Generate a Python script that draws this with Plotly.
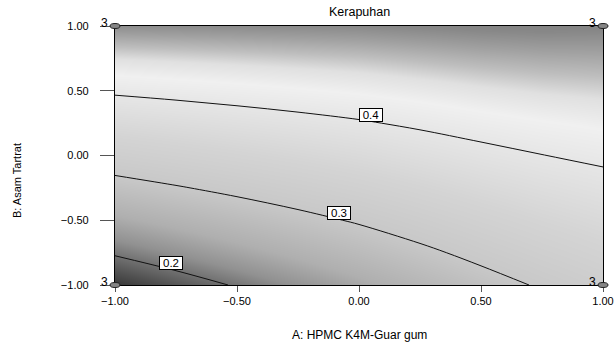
import numpy as np
import plotly.graph_objects as go

# ---------------- data ----------------
A_vals = [-1.0, -0.75, -0.5, -0.25, 0.0, 0.25, 0.5, 0.75, 1.0]   # A: HPMC K4M-Guar gum
B_vals = [-1.0, -0.75, -0.5, -0.25, 0.0, 0.25, 0.5, 0.75, 1.0]   # B: Asam Tartrat

# Kerapuhan response, rows = B (bottom -> top), columns = A (left -> right)
kerapuhan = [
    [0.1636, 0.1832, 0.2029, 0.2225, 0.2422, 0.2634, 0.2845, 0.3042, 0.3219],
    [0.2039, 0.2212, 0.2385, 0.2558, 0.2731, 0.2919, 0.3107, 0.3280, 0.3433],
    [0.2442, 0.2591, 0.2741, 0.2890, 0.3040, 0.3204, 0.3368, 0.3518, 0.3647],
    [0.2845, 0.2971, 0.3097, 0.3223, 0.3348, 0.3489, 0.3630, 0.3756, 0.3861],
    [0.3249, 0.3351, 0.3453, 0.3555, 0.3657, 0.3774, 0.3891, 0.3993, 0.4076],
    [0.3652, 0.3730, 0.3809, 0.3887, 0.3966, 0.4059, 0.4153, 0.4231, 0.4290],
    [0.4055, 0.4110, 0.4165, 0.4220, 0.4275, 0.4344, 0.4414, 0.4469, 0.4504],
    [0.4458, 0.4490, 0.4521, 0.4552, 0.4583, 0.4630, 0.4676, 0.4707, 0.4718],
    [0.4862, 0.4869, 0.4877, 0.4884, 0.4892, 0.4915, 0.4937, 0.4945, 0.4933],
]

contour_levels = [0.2, 0.3, 0.4]
label_A = [-0.77, -0.08, 0.05]          # where each contour label sits along A

design_A = [-1, -1, 1, 1]
design_B = [-1, 1, -1, 1]
design_n = [3, 3, 3, 3]

tick_vals = [-1.0, -0.5, 0.0, 0.5, 1.0]

# ---------------- style ----------------
FONT = "Liberation Sans, Arial, sans-serif"
ZMIN, ZMAX = 0.16, 0.50
gray_stops = [(0.16, 50), (0.18, 80), (0.20, 112), (0.22, 145), (0.25, 175),
              (0.30, 200), (0.35, 212), (0.40, 230), (0.425, 240), (0.445, 224),
              (0.46, 190), (0.475, 162), (0.49, 136), (0.50, 128)]
colorscale = [[(z - ZMIN) / (ZMAX - ZMIN), f"rgb({g},{g},{g})"] for z, g in gray_stops]

Z = np.array(kerapuhan)
A = np.array(A_vals)
B = np.array(B_vals)

fig = go.Figure()
fig.add_trace(go.Heatmap(
    x=A_vals, y=B_vals, z=kerapuhan, zmin=ZMIN, zmax=ZMAX,
    colorscale=colorscale, zsmooth="best", showscale=False, hoverinfo="skip"))
fig.add_trace(go.Contour(
    x=A_vals, y=B_vals, z=kerapuhan,
    contours=dict(start=contour_levels[0], end=contour_levels[-1],
                  size=contour_levels[1] - contour_levels[0],
                  coloring="none", showlabels=False),
    line=dict(color="#111111", width=1), showscale=False, hoverinfo="skip"))

annotations = []
# contour labels (positions derived from the grid)
for lev, la in zip(contour_levels, label_A):
    col = np.array([np.interp(la, A, row) for row in Z])
    lb = float(np.interp(lev, col, B))
    annotations.append(dict(
        x=la, y=lb, xref="x", yref="y", text=f"{lev:.1f}", showarrow=False,
        xanchor="center", yanchor="middle",
        yshift=6, font=dict(family=FONT, size=11.5, color="black"),
        bgcolor="white", bordercolor="black", borderwidth=1, borderpad=1,
        width=20, height=10))

shapes = []
xr = (-1.0, 1.0)
yr = (-1.0, 1.0)
for a, b, n in zip(design_A, design_B, design_n):
    px = (a - xr[0]) / (xr[1] - xr[0])
    py = (b - yr[0]) / (yr[1] - yr[0])
    shapes.append(dict(type="circle", xref="paper", yref="paper",
                       xsizemode="pixel", ysizemode="pixel",
                       xanchor=px, yanchor=py, x0=-5, x1=5, y0=-2.5, y1=2.5,
                       fillcolor="#858585", line=dict(color="#222", width=1),
                       layer="above"))
    annotations.append(dict(x=px, y=py, xref="paper", yref="paper", text=str(n),
                            showarrow=False, xshift=-11, yshift=3,
                            xanchor="center", yanchor="middle",
                            font=dict(family=FONT, size=12, color="black")))

# title and axis titles
annotations.append(dict(x=0.5, y=(285 - 12) / 259.3, xref="paper", yref="paper",
                        text="Kerapuhan", showarrow=False,
                        xanchor="center", yanchor="middle",
                        font=dict(family=FONT, size=12.5, color="black")))
annotations.append(dict(x=0.5, y=-0.193, xref="paper", yref="paper",
                        text="A: HPMC K4M-Guar gum", showarrow=False,
                        xanchor="center", yanchor="middle",
                        font=dict(family=FONT, size=12, color="black")))
annotations.append(dict(x=-0.201, y=0.405, xref="paper", yref="paper",
                        text="B: Asam Tartrat", showarrow=False, textangle=-90,
                        xanchor="center", yanchor="middle",
                        font=dict(family=FONT, size=11, color="black")))

axis_common = dict(range=[-1, 1], tickvals=tick_vals, tickformat=".2f",
                   showgrid=False, zeroline=False, showline=True,
                   linecolor="black", linewidth=1.2, mirror=True,
                   ticks="outside", tickcolor="#555", tickwidth=1,
                   tickfont=dict(family=FONT, size=11, color="black"))

fig.update_layout(
    width=615, height=346,
    margin=dict(l=115, r=12.3, t=25.7, b=61, autoexpand=False),
    paper_bgcolor="white", plot_bgcolor="white",
    xaxis=dict(**axis_common, ticklen=6),
    yaxis=dict(**axis_common, ticklen=14, ticklabelstandoff=9),
    annotations=annotations, shapes=shapes, showlegend=False)

fig.write_html("out.html", config={"displayModeBar": False},
               post_script="document.body.style.margin='0px';")
